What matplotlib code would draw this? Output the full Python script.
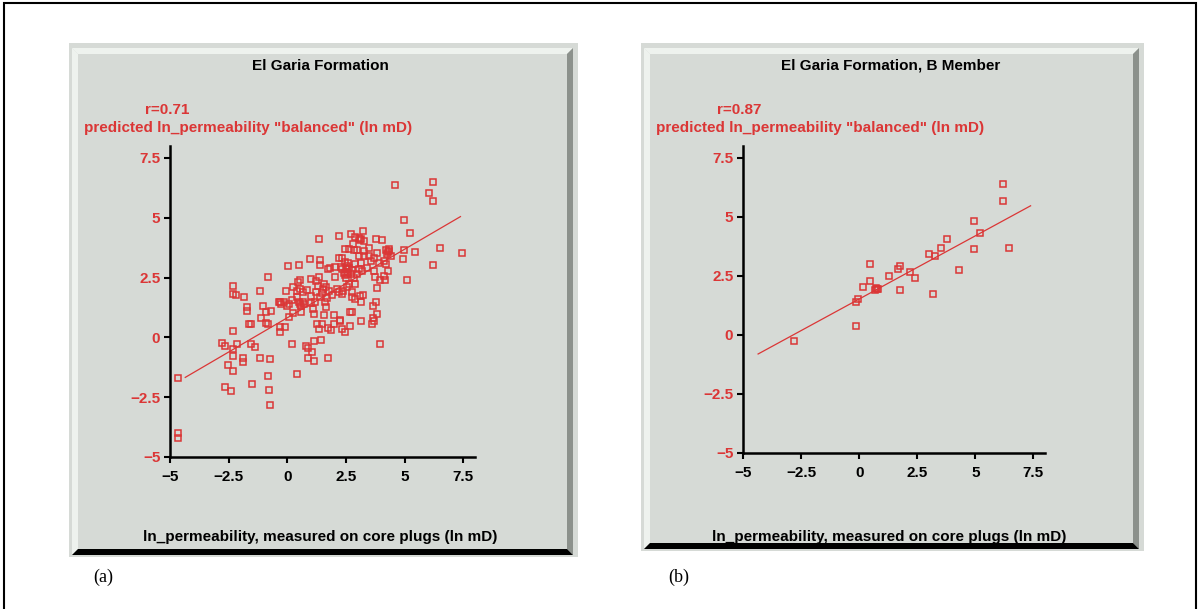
import numpy as np
import matplotlib
matplotlib.use('Agg')
import matplotlib.pyplot as plt
from matplotlib.patches import Rectangle, Polygon

plt.rcdefaults()
plt.rc('font', family=['Liberation Sans', 'DejaVu Sans'], size=11, weight='bold')

W, H = 1199, 609
RED = '#db3636'
BG = '#d6dad6'
LIGHT = '#eef2ee'
DARK = '#8c918c'

# DATA
# (a) El Garia Formation: measured vs predicted ln permeability (ln mD)
meas_a = [-4.64, -4.64, -4.64, -2.80, -2.65, -2.33, -2.33, -2.33, -2.33, -2.33,
          -2.20, -2.13, -2.54, -2.33, -2.65, -2.41, -1.83, -1.71, -1.71, -1.64,
          -1.55, -1.55, -1.38, -1.88, -1.88, -1.49, -1.16, -0.72, -0.84, -0.77,
          -0.72, 0.41, 0.20, 0.80, 0.87, 1.04, 0.87, 1.12, 1.14, 1.45,
          1.72, 4.59, 6.03, 6.23, 6.23, 4.99, 5.23, 6.49, 7.46, 5.43,
          4.99, 4.93, 5.12, 6.23, 3.93, 3.81, 3.77, 3.67, 3.81, 3.71,
          3.62, 3.16, 2.68,
          1.34, 2.19, 2.73, 2.90, 0.96, 0.48, 0.03, -0.84, -1.17, 1.40,
          1.40, 1.73, 1.82, 2.03, 2.19, 2.35, 2.48, 2.63, 2.80, 2.85,
          2.05, 1.34, 1.01, 0.54, 0.47, 0.24, -0.04, 0.41, 0.82, 0.66,
          1.21, 1.31, 1.56, 1.63, 1.76, 1.47, 2.12, 2.38, 2.53, 2.64,
          2.74, 2.74, 2.35, 2.19, 1.92, 1.70, 1.60, 1.64, 1.38, 1.18,
          0.99, 0.43, 0.19, 0.09, -0.13, -0.37, -0.31, -0.02, -1.04, -0.70,
          -0.92, -1.10, -0.92, -0.81, -0.30, -0.30, -0.11, 0.09, 0.24, 0.60,
          1.14, 1.25, 1.48, 1.57, 2.01, 2.24, 2.26, 2.67, 2.77, 2.01,
          1.73, 1.86, 2.48, 2.34, 1.34, 1.03, 1.22, 0.53, 1.54, 1.11,
          2.40, 2.50, 2.60, 2.45, 2.55, 2.65, 2.35, 2.70, 2.50, 2.60,
          2.30, 2.75, 2.45, 2.55, 0.55, 0.65, 0.60, 0.70, 0.50, 4.20,
          4.28, 4.35, 4.25, 4.32, 3.04, 3.16, 3.28, 3.10, -0.25,
          3.23, 3.77, 4.05, 4.42, 3.81, 3.49, 3.26, 2.97, 3.04, 3.26,
          3.48, 3.70, 4.13, 3.92, 3.55, 3.12, 2.90, 3.04, 3.41, 3.70,
          4.20, 4.31, 4.13, 3.73, 2.97, 3.19, 2.83, 2.90, 3.96, 4.18,
          3.23, 3.09, 2.90, 3.12, 3.66]
pred_a = [-1.69, -4.00, -4.22, -0.22, -0.35, -0.47, -0.78, 0.28, 2.14, 1.82,
          1.77, -0.26, -1.17, -1.42, -2.06, -2.24, 1.70, 1.27, 1.11, 0.56,
          0.56, -0.26, -0.39, -0.88, -1.04, -1.94, -0.86, -0.92, -1.63, -2.20,
          -2.84, -1.55, -0.28, -0.38, -0.46, -0.63, -0.85, -0.99, -0.15, -0.11,
          -0.86, 6.35, 6.03, 6.48, 5.71, 4.89, 4.37, 3.73, 3.54, 3.55,
          3.66, 3.29, 2.40, 3.04, -0.28, 2.08, 1.46, 1.32, 0.99, 0.70,
          0.56, 0.67, 0.47,
          4.12, 4.25, 4.32, 4.18, 3.29, 3.04, 2.97, 2.53, 1.94, 3.23,
          3.01, 2.84, 2.92, 2.95, 3.31, 3.31, 3.71, 3.69, 3.90, 3.65,
          2.53, 2.53, 2.45, 2.39, 2.30, 2.09, 1.95, 1.95, 2.00, 1.89,
          2.34, 2.14, 2.25, 2.12, 1.95, 1.86, 2.02, 1.95, 2.12, 2.25,
          1.91, 1.70, 1.81, 1.88, 1.78, 1.64, 1.50, 1.25, 1.67, 1.50,
          1.42, 1.67, 1.56, 1.39, 1.50, 1.50, 1.50, 1.32, 1.32, 1.11,
          1.08, 0.83, 0.61, 0.58, 0.44, 0.24, 0.42, 0.86, 1.04, 1.08,
          0.97, 0.55, 0.55, 0.94, 0.94, 0.72, 0.69, 1.08, 1.08, 0.58,
          0.39, 0.30, 0.21, 0.35, 0.35, 1.73, 1.88, 2.02, 2.02, 1.18,
          2.70, 2.85, 2.75, 2.60, 3.00, 2.90, 2.85, 2.65, 2.50, 3.10,
          2.95, 2.80, 3.15, 2.65, 1.40, 1.50, 1.30, 1.38, 1.48, 3.65,
          3.55, 3.62, 3.48, 3.70, 4.15, 4.11, 4.01, 4.05, 1.40,
          4.45, 4.11, 4.06, 3.40, 3.54, 3.72, 3.61, 3.67, 3.40, 3.40,
          3.40, 3.33, 3.19, 3.12, 3.19, 3.12, 3.05, 2.84, 2.89, 2.77,
          3.05, 2.77, 2.57, 2.52, 2.64, 2.77, 2.50, 2.25, 2.38, 2.38,
          1.77, 1.73, 1.59, 1.48, 0.82]

# (b) El Garia Formation, B Member
meas_b = [-2.81, -0.13, -0.13, -0.06, 0.18, 0.45, 0.45, 0.69, 0.77, 0.83,
          0.74, 1.30, 1.68, 1.77, 1.77, 2.21, 2.41, 3.01, 3.27, 3.20,
          3.52, 3.79, 4.30, 4.96, 4.96, 5.22, 6.20, 6.20, 6.46]
pred_b = [-0.27, 0.38, 1.38, 1.54, 2.03, 2.28, 2.99, 1.92, 1.96, 1.93,
          1.99, 2.48, 2.79, 2.92, 1.90, 2.65, 2.41, 3.44, 3.35, 1.72,
          3.69, 4.06, 2.73, 4.83, 3.62, 4.33, 6.41, 5.65, 3.69]

# regression lines: (slope, intercept), drawn over the x range below
fit_a = (0.573, 0.82)
fit_b = (0.535, 1.52)
fit_range = (-4.35, 7.38)

r_vals = [0.71, 0.87]
titles = ['El Garia Formation', 'El Garia Formation, B Member']
ylabel = 'predicted ln_permeability "balanced" (ln mD)'
xlabel = 'ln_permeability, measured on core plugs (ln mD)'
tick_vals = [-5, -2.5, 0, 2.5, 5, 7.5]
tick_labels = ['\u22125', '\u22122.5', '0', '2.5', '5', '7.5']
panel_tags = ['(a)', '(b)']


def fx(px):
    return px / W


def fy(py):
    return 1 - py / H


fig = plt.figure(figsize=(W / 100, H / 100), dpi=100)
fig.patch.set_facecolor('white')


def poly(pts, color):
    fig.patches.append(Polygon([(fx(x), fy(y)) for x, y in pts], closed=True,
                               transform=fig.transFigure, facecolor=color,
                               edgecolor='none', zorder=-2))


def panel(x0, y0, x1, y1):
    poly([(x0, y0), (x1, y0), (x1, y1), (x0, y1)], BG)
    a0, b0, a1, b1 = x0 + 3, y0 + 5, x1 - 5, y1 - 2
    b = 6
    poly([(a0, b0), (a1, b0), (a1 - b, b0 + b), (a0 + b, b0 + b)], LIGHT)
    poly([(a0, b0), (a0 + b, b0 + b), (a0 + b, b1 - b), (a0, b1)], LIGHT)
    poly([(a1, b0), (a1, b1), (a1 - b, b1 - b), (a1 - b, b0 + b)], DARK)
    poly([(a0, b1), (a1, b1), (a1 - b, b1 - b), (a0 + b, b1 - b)], 'black')


# outer frame (open at the bottom)
fig.patches.append(Rectangle((fx(4), fy(640)), (1196 - 4) / W, (640 - 3) / H,
                             transform=fig.transFigure, facecolor='none',
                             edgecolor='black', lw=1.5, zorder=-2))

panels = [(69, 43, 578, 557), (641, 43, 1144, 551)]
axes_px = [(170, 146, 475, 457), (743, 146, 1045, 453)]
fits = [fit_a, fit_b]
data = [(meas_a, pred_a), (meas_b, pred_b)]
title_x = [320, 891]
r_x = [167, 739]
ylab_x = [248, 820]
xlab_x = [320, 889]
tag_x = [103, 679]

for i in range(2):
    panel(*panels[i])
    l, t, r, bt = axes_px[i]
    ax = fig.add_axes([fx(l), fy(bt), (r - l) / W, (bt - t) / H])
    ax.set_facecolor('none')
    mx, my = data[i]
    ax.plot(mx, my, 's', ms=4.3, mfc='none', mec=RED, mew=1.1, clip_on=False)
    xr = np.array(fit_range)
    ax.plot(xr, fits[i][0] * xr + fits[i][1], color=RED, lw=0.9)
    ax.set_xlim(-5, 8)
    ax.set_ylim(-5, 8)
    for s in ('top', 'right'):
        ax.spines[s].set_visible(False)
    for s in ('left', 'bottom'):
        ax.spines[s].set_linewidth(1.8)
    ax.set_xticks(tick_vals, tick_labels)
    ax.set_yticks(tick_vals, tick_labels)
    ax.tick_params(direction='out', length=4.5, width=1.5, labelsize=11)
    ax.tick_params(axis='x', pad=5, labelcolor='black')
    ax.tick_params(axis='y', pad=2.5, labelcolor=RED)
    for lab in ax.get_xticklabels() + ax.get_yticklabels():
        lab.set_fontweight('bold')

    fig.text(fx(title_x[i]), fy(66), titles[i], ha='center', va='center',
             color='black')
    fig.text(fx(r_x[i]), fy(110), f'r={r_vals[i]:.2f}', ha='center',
             va='center', color=RED)
    fig.text(fx(ylab_x[i]), fy(128), ylabel, ha='center', va='center',
             color=RED)
    fig.text(fx(xlab_x[i]), fy(537), xlabel, ha='center', va='center',
             color='black')
    fig.text(fx(tag_x[i]), fy(577), panel_tags[i], ha='center', va='center',
             family=['Liberation Serif', 'DejaVu Serif'], weight='normal',
             size=13, color='black')

fig.savefig('out.png', dpi=100, facecolor='white')
